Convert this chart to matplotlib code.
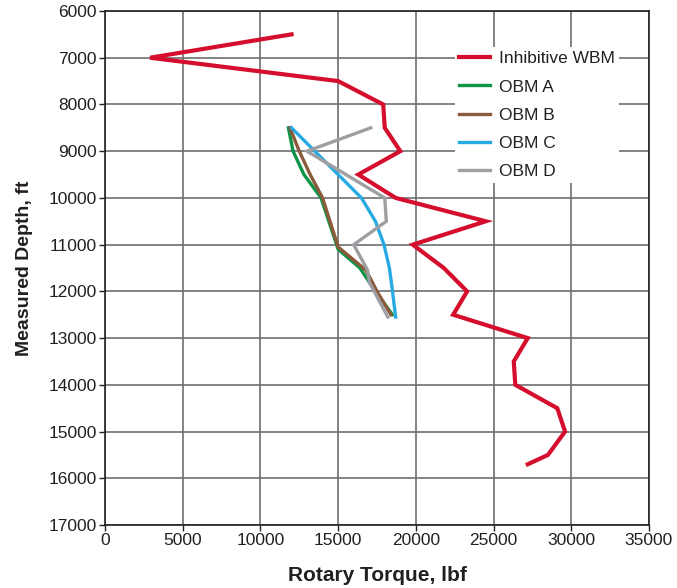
import matplotlib
matplotlib.use("Agg")
import matplotlib.pyplot as plt

plt.rcParams['font.family'] = ['Liberation Sans', 'DejaVu Sans']

# Rotary torque (lbf) vs measured depth (ft)
wbm_depth = [6500, 7000, 7500, 8000, 8500, 9000, 9500, 10000, 10500, 11000,
             11500, 12000, 12500, 13000, 13500, 14000, 14500, 15000, 15500, 15700]
wbm_torque = [12000, 2900, 15000, 17900, 18000, 19000, 16300, 18700, 24500, 19800,
              21800, 23300, 22400, 27200, 26300, 26400, 29100, 29600, 28500, 27200]

obm_a_depth = [8500, 9000, 9500, 10000, 11100, 11500, 12000, 12500]
obm_a_torque = [11800, 12100, 12800, 13900, 15000, 16400, 17400, 18500]

obm_b_depth = [8500, 9000, 9500, 10000, 11050, 11550, 12000, 12500]
obm_b_torque = [11900, 12500, 13200, 14000, 15000, 16800, 17500, 18400]

obm_c_depth = [8500, 9000, 9500, 10000, 10500, 11000, 11500, 12000, 12550]
obm_c_torque = [12000, 13500, 15000, 16500, 17400, 17950, 18300, 18500, 18700]

obm_d_depth = [8500, 9000, 10000, 10500, 11000, 11550, 11800, 12550]
obm_d_torque = [17100, 13000, 18000, 18100, 16000, 16900, 17000, 18200]

series = [
    ("Inhibitive WBM", wbm_torque, wbm_depth, "#d40e2c", 3.0),
    ("OBM A", obm_a_torque, obm_a_depth, "#0f9447", 2.4),
    ("OBM B", obm_b_torque, obm_b_depth, "#8b5a3a", 2.4),
    ("OBM C", obm_c_torque, obm_c_depth, "#27aae1", 2.4),
    ("OBM D", obm_d_torque, obm_d_depth, "#9d9fa2", 2.4),
]

fig = plt.figure(figsize=(6.77, 5.88), dpi=100)
ax = fig.add_axes([0.1551, 0.1071, 0.8035, 0.8742])

for label, x, y, color, lw in series:
    ax.plot(x, y, color=color, linewidth=lw, label=label,
            solid_joinstyle='miter')

ax.set_xlim(0, 35000)
ax.set_ylim(17000, 6000)
ax.set_xticks(range(0, 35001, 5000))
ax.set_yticks(range(6000, 17001, 1000))
ax.grid(True, color="#6d6e70", linewidth=1.2)
ax.set_axisbelow(True)

for sp in ax.spines.values():
    sp.set_color("#231f20")
    sp.set_linewidth(1.2)
ax.tick_params(axis='both', labelsize=12.5, colors="#231f20",
               length=4, width=1.0, pad=2)

ax.set_xlabel("Rotary Torque, lbf", fontsize=15, fontweight='bold',
              color="#231f20", labelpad=13)
ax.set_ylabel("Measured Depth, ft", fontsize=14, fontweight='bold',
              color="#231f20", labelpad=11)

leg = ax.legend(loc='upper left', bbox_to_anchor=(0.659, 0.935),
                bbox_transform=fig.transFigure, fontsize=12.5,
                frameon=True, fancybox=False, framealpha=1,
                edgecolor='none', facecolor='white',
                handlelength=1.8, handletextpad=0.5, labelspacing=0.75,
                borderpad=0.25)
for t in leg.get_texts():
    t.set_color("#231f20")

fig.savefig("out.png", dpi=100)
